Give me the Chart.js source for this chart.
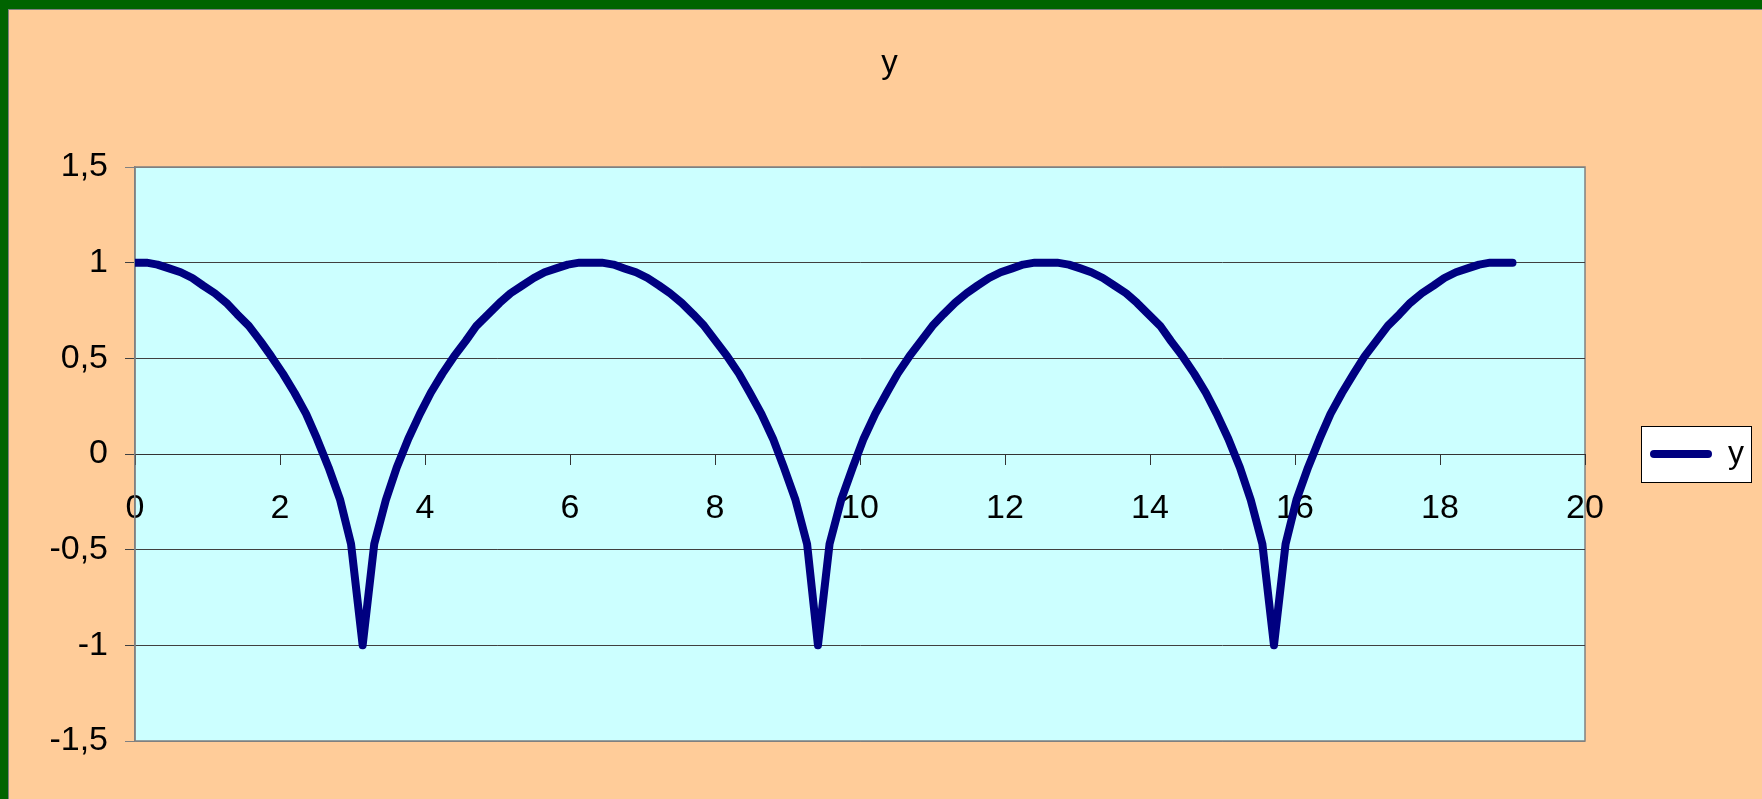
<!DOCTYPE html>
<html lang="ru">
  <head>
    <meta charset="UTF-8" />
    <title>y</title>
    <style>
      body {
        margin: 0;
        background-color: #ffcc99;
        overflow: hidden;
      }
      .frame {
        width: 1754px;
        height: 790px;
        border-top: 9px solid #006400;
        border-left: 8px solid #006400;
      }
      .inner {
        width: 1753px;
        height: 789px;
        border-top: 1px solid #808080;
        border-left: 1px solid #808080;
      }
      canvas {
        display: block;
      }
    </style>
  </head>
  <body>
    <div class="frame">
      <div class="inner">
        <canvas id="chart" width="1753" height="789"></canvas>
      </div>
    </div>
    <script src="https://cdn.jsdelivr.net/npm/chart.js"></script>
    <script>
      const seriesName = "y";

      const xValues = [
        0, 0.16, 0.31, 0.47, 0.63, 0.79, 0.94, 1.1, 1.26, 1.41,
        1.57, 1.73, 1.88, 2.04, 2.2, 2.36, 2.51, 2.67, 2.83, 2.98,
        3.14, 3.3, 3.46, 3.61, 3.77, 3.93, 4.08, 4.24, 4.4, 4.56,
        4.71, 4.87, 5.03, 5.18, 5.34, 5.5, 5.65, 5.81, 5.97, 6.13,
        6.28, 6.44, 6.6, 6.75, 6.91, 7.07, 7.23, 7.38, 7.54, 7.7,
        7.85, 8.01, 8.17, 8.33, 8.48, 8.64, 8.8, 8.95, 9.11, 9.27,
        9.42, 9.58, 9.74, 9.9, 10.05, 10.21, 10.37, 10.52, 10.68, 10.84,
        11.0, 11.15, 11.31, 11.47, 11.62, 11.78, 11.94, 12.1, 12.25, 12.41,
        12.57, 12.72, 12.88, 13.04, 13.19, 13.35, 13.51, 13.67, 13.82, 13.98,
        14.14, 14.29, 14.45, 14.61, 14.77, 14.92, 15.08, 15.24, 15.39, 15.55,
        15.71, 15.87, 16.02, 16.18, 16.34, 16.49, 16.65, 16.81, 16.96, 17.12,
        17.28, 17.44, 17.59, 17.75, 17.91, 18.06, 18.22, 18.38, 18.54, 18.69,
        18.85, 19
      ];

      const yValues = [
        1, 1, 0.99, 0.97, 0.95, 0.92, 0.88, 0.84, 0.79, 0.73,
        0.67, 0.59, 0.51, 0.42, 0.32, 0.21, 0.08, -0.07, -0.24, -0.47,
        -1, -0.47, -0.24, -0.07, 0.08, 0.21, 0.32, 0.42, 0.51, 0.59,
        0.67, 0.73, 0.79, 0.84, 0.88, 0.92, 0.95, 0.97, 0.99, 1,
        1, 1, 0.99, 0.97, 0.95, 0.92, 0.88, 0.84, 0.79, 0.73,
        0.67, 0.59, 0.51, 0.42, 0.32, 0.21, 0.08, -0.07, -0.24, -0.47,
        -1, -0.47, -0.24, -0.07, 0.08, 0.21, 0.32, 0.42, 0.51, 0.59,
        0.67, 0.73, 0.79, 0.84, 0.88, 0.92, 0.95, 0.97, 0.99, 1,
        1, 1, 0.99, 0.97, 0.95, 0.92, 0.88, 0.84, 0.79, 0.73,
        0.67, 0.59, 0.51, 0.42, 0.32, 0.21, 0.08, -0.07, -0.24, -0.47,
        -1, -0.47, -0.24, -0.07, 0.08, 0.21, 0.32, 0.42, 0.51, 0.59,
        0.67, 0.73, 0.79, 0.84, 0.88, 0.92, 0.95, 0.97, 0.99, 1,
        1, 1
      ];

      // axis ranges / tick steps
      const xMin = 0, xMax = 20, xStep = 2;
      const yMin = -1.5, yMax = 1.5, yStep = 0.5;

      const fontFamily = "'Liberation Sans', Arial, sans-serif";
      const lineColor = "#000080";

      const points = xValues.map((x, i) => ({ x: x, y: yValues[i] }));

      // plot area fill + frame, white legend box
      const backdrop = {
        id: "backdrop",
        beforeDraw(chart) {
          const { ctx, chartArea: a } = chart;
          ctx.save();
          ctx.fillStyle = "#ccffff";
          ctx.fillRect(a.left, a.top, a.right - a.left, a.bottom - a.top);
          ctx.strokeStyle = "#808080";
          ctx.lineWidth = 1.5;
          ctx.strokeRect(a.left, a.top, a.right - a.left, a.bottom - a.top);

          const hb = chart.legend.legendHitBoxes[0];
          if (hb) {
            const cy = hb.top + hb.height / 2;
            const l = hb.left - 9, r = hb.left + hb.width + 7;
            ctx.fillStyle = "#ffffff";
            ctx.fillRect(l, cy - 28, r - l, 56);
            ctx.strokeStyle = "#000000";
            ctx.lineWidth = 1;
            ctx.strokeRect(l + 0.5, cy - 28 + 0.5, r - l, 56);
          }
          ctx.restore();
        }
      };

      new Chart(document.getElementById("chart"), {
        type: "line",
        data: {
          datasets: [
            {
              label: seriesName,
              data: points,
              borderColor: lineColor,
              backgroundColor: lineColor,
              borderWidth: 8,
              pointRadius: 0,
              tension: 0,
              fill: false,
              borderJoinStyle: "round",
              borderCapStyle: "round"
            }
          ]
        },
        options: {
          responsive: false,
          animation: false,
          layout: { padding: { left: 16, right: 8, top: 0, bottom: 58 } },
          plugins: {
            title: {
              display: true,
              text: seriesName,
              color: "#000",
              font: { family: fontFamily, size: 33, weight: "normal" },
              padding: { top: 34, bottom: 83.4 }
            },
            legend: {
              position: "right",
              fullSize: false,
              labels: {
                color: "#000",
                font: { family: fontFamily, size: 32 },
                boxWidth: 62,
                boxHeight: 8,
                padding: 65,
                generateLabels: (chart) => [
                  {
                    text: seriesName,
                    fillStyle: lineColor,
                    strokeStyle: lineColor,
                    lineWidth: 0,
                    borderRadius: 4,
                    hidden: false,
                    datasetIndex: 0
                  }
                ]
              }
            },
            tooltip: { enabled: false }
          },
          scales: {
            x: {
              type: "linear",
              position: { y: 0 },
              min: xMin,
              max: xMax,
              ticks: {
                stepSize: xStep,
                color: "#000",
                padding: 24,
                maxRotation: 0,
                font: { family: fontFamily, size: 34 }
              },
              grid: {
                drawOnChartArea: false,
                drawTicks: true,
                tickLength: 10,
                color: "#333333"
              },
              border: { display: true, color: "#333333", width: 1 }
            },
            y: {
              type: "linear",
              position: "left",
              min: yMin,
              max: yMax,
              afterFit(scale) {
                scale.width = 110;
              },
              ticks: {
                stepSize: yStep,
                color: "#000",
                padding: 17,
                font: { family: fontFamily, size: 34 },
                callback: (v) => String(v).replace(".", ",")
              },
              grid: {
                drawTicks: true,
                tickLength: 10,
                color: (c) => (Math.abs(c.tick.value) === 1.5 ? "#808080" : "#404040")
              },
              border: { display: true, color: "#808080", width: 1.5 }
            }
          }
        },
        plugins: [backdrop]
      });
    </script>
  </body>
</html>
